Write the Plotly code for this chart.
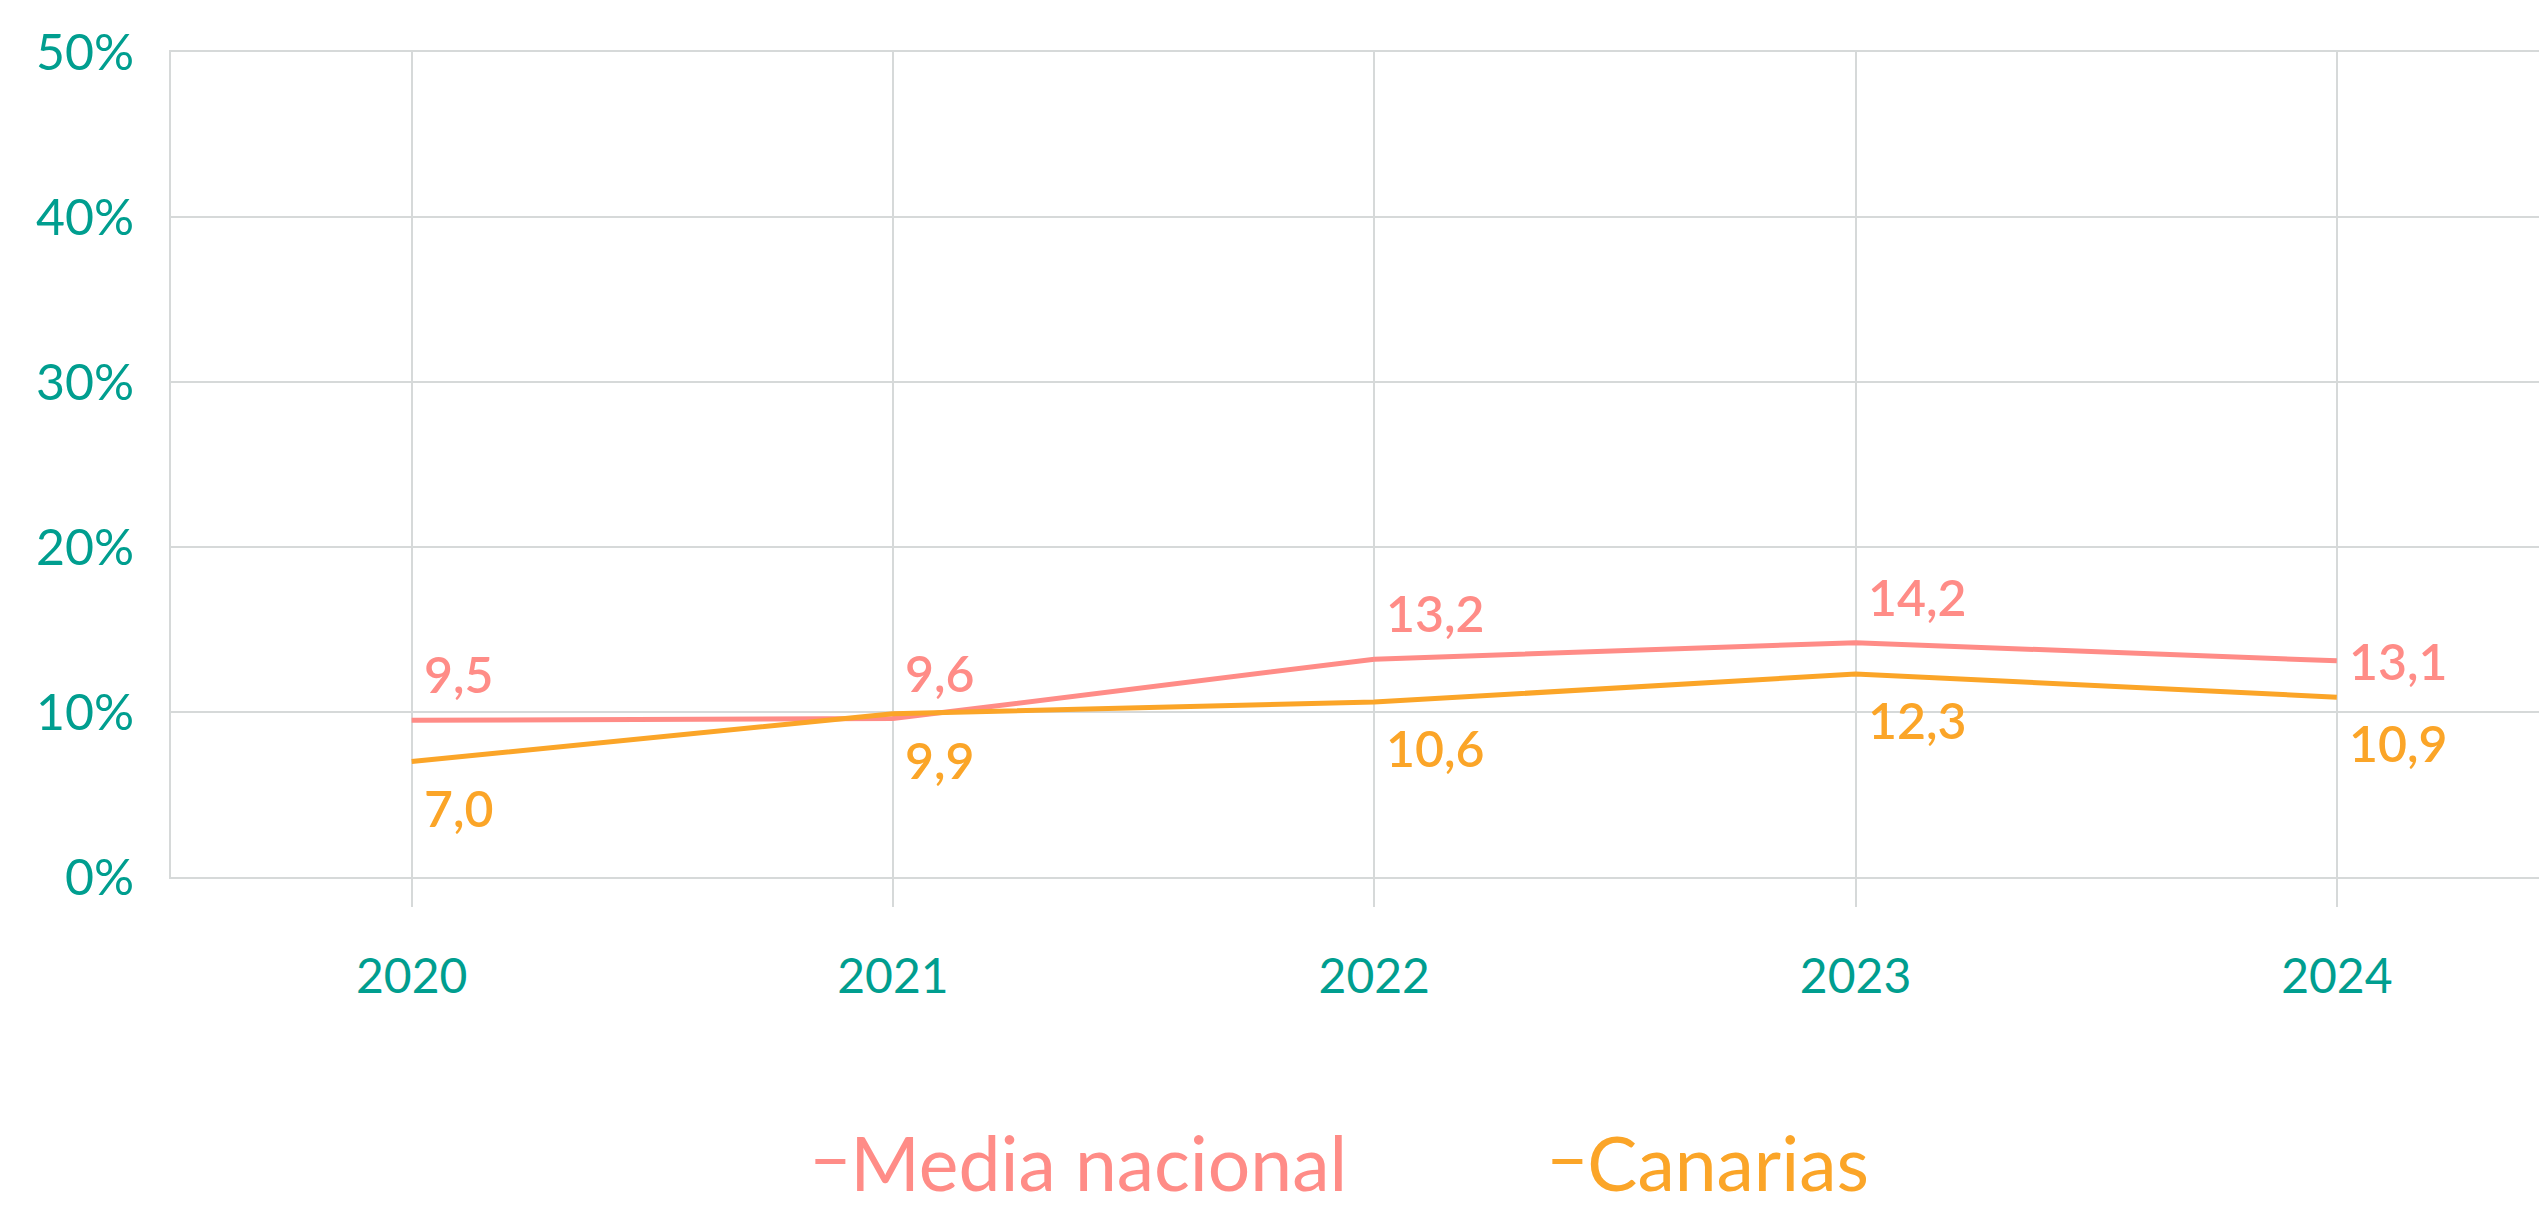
import plotly.graph_objects as go

years = ["2020", "2021", "2022", "2023", "2024"]
media_nacional = [9.5, 9.6, 13.2, 14.2, 13.1]
canarias = [7.0, 9.9, 10.6, 12.3, 10.9]
y_ticks = [0, 10, 20, 30, 40, 50]
y_tick_labels = ["0%", "10%", "20%", "30%", "40%", "50%"]

PINK = "#FF8C87"
ORANGE = "#FBA528"
TEAL = "#009E8F"
GRID = "#D6D9D9"
FONT = "Lato"

xs = list(range(len(years)))

fig = go.Figure()
fig.add_trace(go.Scatter(x=xs, y=media_nacional, mode="lines",
                         name=f"<span style='color:{PINK}'>Media nacional</span>",
                         line=dict(color=PINK, width=5)))
fig.add_trace(go.Scatter(x=xs, y=canarias, mode="lines",
                         name=f"<span style='color:{ORANGE}'>Canarias</span>",
                         line=dict(color=ORANGE, width=5)))


def fmt(v):
    return f"{v:.1f}".replace(".", ",")


for i, v in enumerate(media_nacional):
    last = i == len(media_nacional) - 1
    fig.add_annotation(x=xs[i], y=v, text=fmt(v), showarrow=False,
                       xanchor="left", yanchor="middle",
                       xshift=10, yshift=0 if last else 46,
                       font=dict(family=FONT, size=50, color=PINK, weight=600))
for i, v in enumerate(canarias):
    fig.add_annotation(x=xs[i], y=v, text=fmt(v), showarrow=False,
                       xanchor="left", yanchor="middle",
                       xshift=10, yshift=-46,
                       font=dict(family=FONT, size=50, color=ORANGE, weight=600))

fig.update_layout(
    width=2539, height=1215,
    margin=dict(l=171, r=0, t=52, b=338, autoexpand=False),
    plot_bgcolor="white", paper_bgcolor="white",
    font=dict(family=FONT, color=TEAL),
    showlegend=True,
    legend=dict(orientation="h", x=0.27, xanchor="left", y=-0.345, yanchor="middle",
                font=dict(family=FONT, size=75, color=PINK),
                entrywidth=692),
)
fig.update_xaxes(
    range=[-0.5, 4.42], tickvals=xs, ticktext=years,
    showgrid=True, gridcolor=GRID, gridwidth=2,
    showline=True, linecolor=GRID, linewidth=2, mirror=True,
    ticks="outside", ticklen=28, tickwidth=2, tickcolor=GRID,
    ticklabelstandoff=28,
    tickfont=dict(family=FONT, size=48, color=TEAL),
    zeroline=False,
)
fig.update_yaxes(
    range=[0, 50], tickvals=y_ticks, ticktext=y_tick_labels,
    showgrid=True, gridcolor=GRID, gridwidth=2,
    showline=True, linecolor=GRID, linewidth=2,
    ticks="", ticklabelstandoff=25,
    tickfont=dict(family=FONT, size=50, color=TEAL),
    zeroline=False,
)

fig.write_html("out.html", config={"displayModeBar": False},
               post_script="document.body.style.margin='0';document.body.style.overflow='hidden';")
